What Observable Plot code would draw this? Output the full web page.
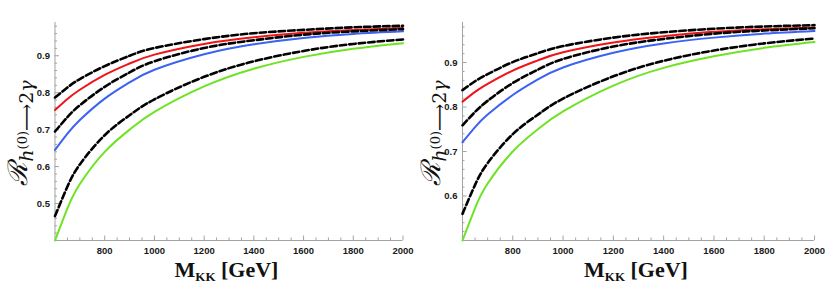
<!DOCTYPE html>
<html>
<head>
<meta charset="utf-8">
<script src="https://cdn.jsdelivr.net/npm/d3@7"></script>
<script src="https://cdn.jsdelivr.net/npm/@observablehq/plot@0.6"></script>
<style>
  html, body { margin: 0; padding: 0; background: #fff; }
  #wrap { display: flex; width: 831px; height: 288px; }
  svg { overflow: visible; }
</style>
</head>
<body>
<div id="wrap"></div>
<script>
// ---- data ----
const mkk = [600, 650, 700, 800, 900, 1000, 1200, 1400, 1600, 1800, 2000];

// left panel
const leftDashTop = [0.787, 0.814, 0.837, 0.872, 0.900, 0.921, 0.945, 0.961, 0.970, 0.977, 0.981];
const leftRed     = [0.753, 0.783, 0.808, 0.848, 0.879, 0.903, 0.932, 0.950, 0.962, 0.970, 0.975];
const leftDashMid = [0.695, 0.734, 0.766, 0.816, 0.855, 0.885, 0.921, 0.942, 0.957, 0.966, 0.972];
const leftBlue    = [0.645, 0.689, 0.726, 0.784, 0.828, 0.862, 0.904, 0.931, 0.948, 0.959, 0.966];
const leftDashLow = [0.466, 0.546, 0.606, 0.685, 0.739, 0.782, 0.843, 0.885, 0.913, 0.932, 0.944];
const leftGreen   = [0.400, 0.487, 0.553, 0.640, 0.700, 0.748, 0.817, 0.865, 0.897, 0.919, 0.934];

// right panel
const rightDashTop = [0.838, 0.858, 0.874, 0.901, 0.921, 0.937, 0.956, 0.968, 0.976, 0.981, 0.984];
const rightRed     = [0.812, 0.834, 0.852, 0.882, 0.905, 0.923, 0.945, 0.959, 0.969, 0.975, 0.979];
const rightDashMid = [0.759, 0.789, 0.814, 0.854, 0.884, 0.908, 0.936, 0.953, 0.965, 0.972, 0.977];
const rightBlue    = [0.721, 0.755, 0.783, 0.827, 0.862, 0.889, 0.922, 0.943, 0.956, 0.965, 0.971];
const rightDashLow = [0.560, 0.625, 0.674, 0.739, 0.783, 0.819, 0.869, 0.904, 0.927, 0.943, 0.954];
const rightGreen   = [0.500, 0.573, 0.628, 0.700, 0.750, 0.790, 0.848, 0.888, 0.914, 0.933, 0.946];

const xMajor = [800, 1000, 1200, 1400, 1600, 1800, 2000];
const xMinor = [650, 700, 750, 850, 900, 950, 1050, 1100, 1150, 1250, 1300, 1350, 1450, 1500, 1550, 1650, 1700, 1750, 1850, 1900, 1950];
const leftYMajor = [0.5, 0.6, 0.7, 0.8, 0.9];
const rightYMajor = [0.6, 0.7, 0.8, 0.9];
const yMinorAll = [0.42, 0.44, 0.46, 0.48, 0.52, 0.54, 0.56, 0.58, 0.62, 0.64, 0.66, 0.68,
                   0.72, 0.74, 0.76, 0.78, 0.82, 0.84, 0.86, 0.88, 0.92, 0.94, 0.96, 0.98];

const RED = "#f01418", BLUE = "#3b62f2", GREEN = "#6ee324";
const AXIS = "#a3a3a3";

function rows(ys) { return mkk.map((x, i) => ({x, y: ys[i]})); }

function panel({width, marginLeft, marginRight, yMin, yMajor, titleX, series}) {
  const marginTop = 22, marginBottom = 48, height = 288;
  const pw = width - marginLeft - marginRight;
  const ph = height - marginTop - marginBottom;
  const yMinor = yMinorAll.filter(v => v > yMin);
  const marks = [
    Plot.ruleX([600], {stroke: AXIS, strokeWidth: 1}),
    Plot.ruleY([yMin], {stroke: AXIS, strokeWidth: 1}),
    Plot.tickX(xMinor, {stroke: AXIS, insetTop: ph - 2.5}),
    Plot.tickX(xMajor, {stroke: AXIS, insetTop: ph - 4.5}),
    Plot.tickY(yMinor, {stroke: AXIS, insetRight: pw - 2.5}),
    Plot.tickY(yMajor, {stroke: AXIS, insetRight: pw - 4.5}),
    Plot.axisX(xMajor, {tickSize: 0, tickPadding: 7, fill: "#1a1a1a",
      fontSize: 9.5, label: null, tickFormat: d => String(d)}),
    Plot.axisY(yMajor, {tickSize: 0, tickPadding: 5, fill: "#1a1a1a",
      fontSize: 9.5, label: null, tickFormat: d => d.toFixed(1)})
  ];
  for (const s of series) {
    marks.push(Plot.line(rows(s.values), {
      x: "x", y: "y", stroke: s.color, curve: "natural",
      strokeWidth: s.dashed ? 2.6 : 2,
      strokeDasharray: s.dashed ? "6.5,3" : null
    }));
  }
  const svg = Plot.plot({
    width, height,
    marginLeft, marginRight, marginTop, marginBottom,
    x: {domain: [600, 2000]},
    y: {domain: [yMin, 0.99]},
    style: {background: "white", fontFamily: "Liberation Sans, Arial, sans-serif"},
    marks
  });
  const g = d3.select(svg);
  g.selectAll("g[aria-label$='tick label']")
    .attr("font-weight", "bold")
    .attr("font-family", "Liberation Sans, Arial, sans-serif");

  // axis titles
  const cx = marginLeft + pw / 2;
  const xt = g.append("text")
    .attr("x", cx - 2).attr("y", 277)
    .attr("text-anchor", "middle")
    .attr("font-family", "Liberation Serif, serif")
    .attr("font-weight", "bold")
    .attr("font-size", 22)
    .attr("fill", "#111");
  xt.append("tspan").text("M");
  xt.append("tspan").attr("font-size", 13).attr("dy", 4).text("KK");
  xt.append("tspan").attr("dy", -4).text(" [GeV]");

  const yt = g.append("text")
    .attr("transform", `translate(${titleX},133) rotate(-90)`)
    .attr("text-anchor", "middle")
    .attr("font-family", "DejaVu Serif, serif")
    .attr("fill", "#111");
  yt.append("tspan").attr("font-size", 27).attr("font-style", "italic").text("ℛ");
  yt.append("tspan").attr("font-size", 19).attr("font-style", "italic").attr("dy", 6).text("h");
  yt.append("tspan").attr("font-size", 13).attr("dy", -6).text("(0)");
  yt.append("tspan").attr("font-size", 19).attr("dy", 6).text("⟶2");
  yt.append("tspan").attr("font-size", 19).attr("font-style", "italic").text("γ");
  return svg;
}

const wrap = document.getElementById("wrap");
wrap.appendChild(panel({
  width: 416, marginLeft: 54.5, marginRight: 13.5, yMin: 0.4, yMajor: leftYMajor, titleX: 27,
  series: [
    {values: leftGreen, color: GREEN},
    {values: leftBlue, color: BLUE},
    {values: leftRed, color: RED},
    {values: leftDashLow, color: "#000", dashed: true},
    {values: leftDashMid, color: "#000", dashed: true},
    {values: leftDashTop, color: "#000", dashed: true}
  ]
}));
wrap.appendChild(panel({
  width: 415, marginLeft: 46, marginRight: 17, yMin: 0.5, yMajor: rightYMajor, titleX: 24,
  series: [
    {values: rightGreen, color: GREEN},
    {values: rightBlue, color: BLUE},
    {values: rightRed, color: RED},
    {values: rightDashLow, color: "#000", dashed: true},
    {values: rightDashMid, color: "#000", dashed: true},
    {values: rightDashTop, color: "#000", dashed: true}
  ]
}));
</script>
</body>
</html>
